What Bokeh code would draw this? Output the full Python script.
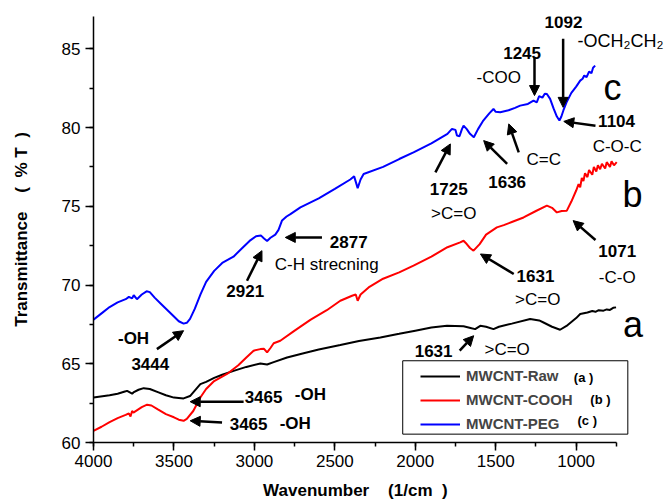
from bokeh.plotting import figure
from bokeh.models import (Range1d, SingleIntervalTicker, Label, Arrow, NormalHead,
                          Legend, LegendItem, BoxAnnotation)
from bokeh.embed import file_html
from bokeh.resources import INLINE

# ---- data (wavenumber in 1/cm, transmittance in %T) ----
raw_wn = [4000, 3900, 3850, 3800, 3791, 3760, 3752, 3720, 3688, 3650, 3600, 3550, 3500,
          3440, 3400, 3336, 3300, 3250, 3200, 3129, 3050, 2963, 2921, 2880, 2797, 2700,
          2600, 2466, 2350, 2217, 2100, 2000, 1900, 1803, 1700, 1650, 1628, 1596, 1560,
          1514, 1480, 1400, 1286, 1230, 1203, 1150, 1100, 1060, 1000, 975, 930, 900, 880,
          860, 830, 810, 790, 770, 752]
raw_t = [62.86, 63.0, 63.1, 63.25, 63.28, 63.1, 63.18, 63.35, 63.45, 63.4, 63.2, 63.0, 62.85,
         62.8, 62.95, 63.71, 63.85, 64.1, 64.3, 64.55, 64.8, 65.02, 64.95, 65.1, 65.4, 65.65,
         65.9, 66.19, 66.45, 66.67, 66.9, 67.1, 67.3, 67.41, 67.38, 67.25, 67.2, 67.41, 67.35,
         67.2, 67.35, 67.55, 67.84, 67.75, 67.62, 67.35, 67.16, 67.4, 67.9, 68.16, 68.25, 68.35, 68.3,
         68.4, 68.37, 68.45, 68.42, 68.55, 68.58]

cooh_wn = [4000, 3950, 3900, 3850, 3800, 3780, 3770, 3760, 3752, 3700, 3667, 3640, 3600,
           3550, 3500, 3470, 3440, 3420, 3380, 3336, 3300, 3250, 3170, 3100, 3050, 3005,
           2963, 2940, 2921, 2900, 2880, 2839, 2750, 2650, 2550, 2466, 2393, 2370, 2358,
           2340, 2290, 2200, 2100, 2011, 1900, 1800, 1721, 1700, 1680, 1660, 1638, 1600,
           1560, 1493, 1450, 1400, 1327, 1250, 1182, 1150, 1120, 1090, 1058, 1030, 1000,
           985, 975, 965, 955, 945, 930, 920, 900, 890, 875, 865, 851, 840, 820, 810, 790,
           780, 765, 748]
cooh_t = [60.74, 61.0, 61.3, 61.55, 61.75, 61.85, 61.65, 62.0, 61.9, 62.25, 62.4, 62.35, 62.1,
          61.8, 61.6, 61.45, 61.38, 61.5, 62.0, 62.86, 63.4, 63.9, 64.35, 64.9, 65.4, 65.83,
          65.93, 65.95, 65.72, 66.0, 66.3, 66.46, 67.1, 67.8, 68.4, 69.0, 69.32, 69.4, 69.0,
          69.4, 69.85, 70.4, 70.8, 71.23, 71.8, 72.4, 72.71, 72.81, 72.6, 72.35, 72.18, 72.6,
          73.2, 73.66, 73.8, 74.0, 74.29, 74.7, 75.04, 74.9, 74.61, 74.7, 74.72, 75.3, 76.0,
          76.4, 76.2, 76.8, 76.6, 77.1, 76.85, 77.3, 77.0, 77.5, 77.2, 77.6, 77.35, 77.7, 77.4,
          77.8, 77.5, 77.85, 77.6, 77.8]

peg_wn = [4000, 3950, 3900, 3850, 3800, 3780, 3760, 3750, 3730, 3700, 3670, 3650, 3620,
          3580, 3540, 3500, 3470, 3440, 3420, 3400, 3370, 3335, 3300, 3250, 3200, 3130,
          3080, 3030, 2990, 2960, 2940, 2921, 2900, 2870, 2850, 2828, 2800, 2776, 2714,
          2600, 2500, 2404, 2380, 2358, 2340, 2321, 2200, 2100, 2011, 1900, 1800, 1772,
          1750, 1741, 1725, 1710, 1700, 1680, 1660, 1636, 1610, 1580, 1540, 1514, 1500,
          1472, 1420, 1380, 1348, 1300, 1265, 1245, 1230, 1210, 1195, 1182, 1162, 1140,
          1120, 1104, 1092, 1079, 1060, 1030, 1000, 975, 960, 950, 935, 920, 905, 895, 882]
peg_t = [67.8, 68.2, 68.6, 68.9, 69.1, 69.25, 69.15, 69.35, 69.1, 69.4, 69.6, 69.55, 69.2,
         68.8, 68.4, 68.0, 67.7, 67.55, 67.6, 67.85, 68.5, 69.4, 70.2, 70.9, 71.4, 71.8,
         72.3, 72.8, 73.1, 73.15, 72.95, 72.8, 73.0, 73.2, 73.5, 74.1, 74.35, 74.5, 74.93,
         75.5, 76.1, 76.7, 76.9, 76.15, 76.7, 77.05, 77.5, 78.0, 78.42, 79.0, 79.6, 79.91,
         79.85, 79.49, 79.45, 79.9, 80.12, 79.9, 79.6, 79.38, 79.9, 80.4, 80.9, 81.18, 81.0,
         80.97, 81.1, 81.25, 81.39, 81.5, 81.71, 81.6, 82.0, 81.9, 82.15, 82.13, 81.82, 81.2,
         80.7, 80.45, 80.7, 81.1, 81.6, 82.2, 82.6, 82.98, 83.1, 83.3, 83.2, 83.55, 83.45, 83.8, 83.93]

series_names = ["MWCNT-Raw", "MWCNT-COOH", "MWCNT-PEG"]
series_tags = ["(a\u00a0)", "(b\u00a0)", "(c\u00a0)"]
series_colors = ["black", "red", "blue"]

x_ticks_interval = 500
y_ticks_interval = 5

# annotation texts: (text, wavenumber, %T, bold)
notes = [
    ("1092", 1079, 86.67, True),
    ("1245", 1336, 84.76, True),
    ("-COO", 1481, 83.15, False),
    ("1104", 749, 80.39, True),
    ("C-O-C", 745, 78.79, False),
    ("1725", 1792, 76.1, True),
    (">C=O", 1761, 74.51, False),
    ("1636", 1429, 76.52, True),
    ("C=C", 1201, 78.0, False),
    ("1071", 745, 72.18, True),
    ("-C-O", 745, 70.48, False),
    ("1631", 1253, 70.59, True),
    (">C=O", 1239, 69.11, False),
    ("1631", 1886, 65.83, True),
    (">C=O", 1429, 65.93, False),
    ("2877", 2414, 72.71, True),
    ("C-H strecning", 2550, 71.33, False),
    ("2921", 3057, 69.64, True),
    ("-OH", 3751, 66.63, True),
    ("3444", 3647, 64.98, True),
    ("3465", 2943, 62.86, True),
    ("-OH", 2652, 63.03, True),
    ("3465", 3036, 61.17, True),
    ("-OH", 2746, 61.19, True),
]
curve_letters = [("c", 774, 82.55), ("b", 650, 75.74), ("a", 646, 67.52)]
tag_positions = [(954, 64.13), (849, 62.76), (931, 61.38)]
legend_box = dict(left=2078, right=679, top=65.19, bottom=60.53)

# arrows: (x_start, y_start, x_end, y_end) in data units, head at end
arrows = [
    (1259, 84.46, 1259, 82.03),
    (1081, 85.63, 1081, 81.28),
    (880, 80.12, 1077, 80.39),
    (1875, 77.15, 1782, 78.96),
    (1429, 77.69, 1575, 79.17),
    (1357, 78.42, 1419, 80.23),
    (880, 72.86, 1019, 74.09),
    (2580, 73.02, 2808, 73.02),
    (3046, 70.27, 2953, 72.18),
    (3606, 65.93, 3440, 67.10),
    (3067, 62.59, 3399, 62.59),
    (3201, 61.27, 3399, 61.38),
    (1388, 70.70, 1595, 71.97),
    (1724, 65.83, 1637, 66.78),
]

FONT = "Liberation Sans"
NB = "\u00a0"

p = figure(width=664, height=504, output_backend="svg", toolbar_location=None,
           x_range=Range1d(4000, 451), y_range=Range1d(60, 87.05),
           min_border_left=93, min_border_right=0, min_border_top=16, min_border_bottom=62)
p.outline_line_color = None
p.xgrid.visible = False
p.ygrid.visible = False
p.background_fill_color = "white"
p.border_fill_color = "white"

renderers = []
for wn, t, c in [(raw_wn, raw_t, series_colors[0]), (cooh_wn, cooh_t, series_colors[1]),
                 (peg_wn, peg_t, series_colors[2])]:
    renderers.append(p.line(wn, t, line_color=c, line_width=2))

p.xaxis.ticker = SingleIntervalTicker(interval=x_ticks_interval, num_minor_ticks=2)
p.yaxis.ticker = SingleIntervalTicker(interval=y_ticks_interval, num_minor_ticks=2)
p.xaxis.bounds = (750, 4000)
for ax in (p.xaxis[0], p.yaxis[0]):
    ax.axis_line_width = 1.5
    ax.axis_line_color = "black"
    ax.major_tick_line_width = 1.5
    ax.minor_tick_line_width = 1.5
    ax.major_tick_out = 8
    ax.major_tick_in = 0
    ax.minor_tick_out = 4
    ax.minor_tick_in = 0
    ax.major_label_text_font = FONT
    ax.major_label_text_font_size = "17px"
    ax.major_label_text_color = "black"
    ax.axis_label_text_font = FONT
    ax.axis_label_text_font_size = "17px"
    ax.axis_label_text_font_style = "bold"
    ax.axis_label_text_color = "black"
p.xaxis.axis_label = "Wavenumber" + NB * 4 + "(1/cm" + NB * 2 + ")" + NB * 10
p.yaxis.axis_label = "Transmittance" + NB * 4 + "(" + NB * 2 + "%" + NB + "T" + NB * 2 + ")"
p.xaxis.major_label_standoff = 4
p.xaxis.axis_label_standoff = 11
p.yaxis.major_label_standoff = 5
p.yaxis.axis_label_standoff = 28

for txt, x, y, bold in notes:
    p.add_layout(Label(x=x, y=y, text=txt, text_align="center", text_baseline="middle",
                       text_font=FONT, text_font_size="17px",
                       text_font_style="bold" if bold else "normal", text_color="black"))

# -OCH2CH2 with subscripts
p.add_layout(Label(x=992, y=85.52, text="-OCH\u2082CH\u2082", text_align="left",
                   text_baseline="middle", text_font=FONT, text_font_size="18px",
                   text_color="black"))

for letter, x, y in curve_letters:
    p.add_layout(Label(x=x, y=y, text=letter, text_align="center", text_baseline="middle",
                       text_font=FONT, text_font_size="36px", text_color="black"))

for xs, ys, xe, ye in arrows:
    p.add_layout(Arrow(end=NormalHead(size=10, fill_color="black", line_color="black",
                                      line_width=1),
                       x_start=xs, y_start=ys, x_end=xe, y_end=ye,
                       line_width=2.5, line_color="black"))

# legend frame
p.add_layout(BoxAnnotation(left=legend_box["right"], right=legend_box["left"],
                           bottom=legend_box["bottom"], top=legend_box["top"],
                           fill_color="white", fill_alpha=1.0,
                           line_color="black", line_width=1, line_alpha=1.0))

legend = Legend(items=[LegendItem(label=series_names[i], renderers=[renderers[i]])
                       for i in range(3)],
                location=(327, 10), orientation="vertical")
legend.border_line_color = None
legend.background_fill_alpha = 0
legend.label_text_font = FONT
legend.label_text_font_size = "15px"
legend.label_text_font_style = "bold"
legend.glyph_width = 40
legend.glyph_height = 14
legend.label_height = 14
legend.spacing = 7
legend.padding = 0
legend.margin = 0
legend.label_standoff = 6
p.add_layout(legend)

for tag, (x, y) in zip(series_tags, tag_positions):
    p.add_layout(Label(x=x, y=y, text=tag, text_align="center", text_baseline="middle",
                       text_font=FONT, text_font_size="13px", text_font_style="bold",
                       text_color="black", level="overlay"))

open("out.html", "w").write(file_html(p, INLINE))
